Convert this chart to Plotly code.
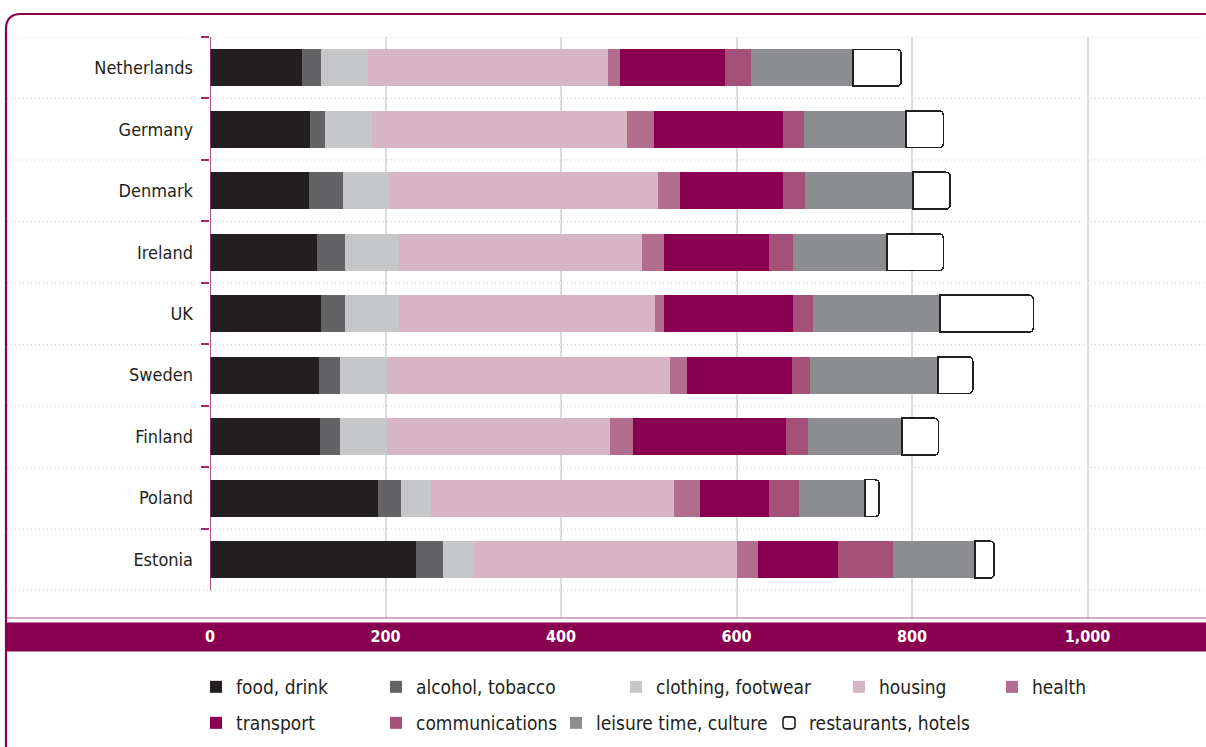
import plotly.graph_objects as go

# ---------------- data ----------------
countries = ["Netherlands", "Germany", "Denmark", "Ireland", "UK",
             "Sweden", "Finland", "Poland", "Estonia"]
food_drink = [104.5, 114.0, 112.8, 121.9, 126.5, 124.2, 125.4, 191.5, 234.8]
alcohol_tobacco = [22.0, 17.1, 38.7, 31.9, 27.4, 23.9, 22.8, 26.2, 30.8]
clothing_footwear = [53.6, 53.6, 52.4, 61.5, 61.5, 53.6, 53.6, 34.2, 35.3]
housing = [273.5, 290.6, 306.6, 276.9, 291.7, 322.5, 254.1, 276.9, 299.7]
health = [13.7, 30.8, 25.1, 25.1, 10.3, 19.4, 26.2, 29.6, 23.9]
transport = [119.7, 147.0, 117.4, 119.7, 147.0, 119.7, 174.4, 78.6, 91.2]
communications = [29.6, 23.9, 25.1, 27.4, 22.8, 20.5, 25.1, 34.2, 62.7]
leisure_culture = [115.9, 116.2, 123.1, 107.1, 144.7, 145.9, 107.1, 75.2, 93.4]
restaurants_hotels = [55.0, 42.5, 42.2, 64.2, 106.4, 39.5, 41.4, 16.0, 21.7]

series_names = ["food, drink", "alcohol, tobacco", "clothing, footwear", "housing",
                "health", "transport", "communications", "leisure time, culture",
                "restaurants, hotels"]
x_tick_values = [0, 200, 400, 600, 800, 1000]
x_tick_labels = ["0", "200", "400", "600", "800", "1,000"]

# ---------------- style ----------------
W, H = 1206, 747
ML, MR, MT, MB = 210, 0, 37, 129
PW, PH = W - ML - MR, H - MT - MB
MAGENTA = "#8a0050"
FONT = "DejaVu Sans Condensed, Liberation Sans Narrow, Roboto, sans-serif"
TEXT = "#231f20"

colors = ["#231f20", "#636365", "#c6c7c9", "#d8b5c5", "#b36e8f",
          "#8a0050", "#a55078", "#8c8d91", "#ffffff"]
values = [food_drink, alcohol_tobacco, clothing_footwear, housing, health,
          transport, communications, leisure_culture, restaurants_hotels]

def px_x(p):
    return (p - ML) / PW

def px_y(p):
    return (H - MB - p) / PH

# legend placement: (swatch left px, row centre px)
legend_pos = [(210, 687), (390, 687), (630, 687), (853, 687), (1006, 687),
              (210, 723), (390, 723), (570, 723), (783, 723)]

fig = go.Figure()
for i, (name, vals, col) in enumerate(zip(series_names, values, colors)):
    lg = "legend" if i == 0 else f"legend{i + 1}"
    marker = dict(color=col, line=dict(width=0))
    if i == len(series_names) - 1:
        marker = dict(color=col, line=dict(width=1.6, color=TEXT), cornerradius=4)
    fig.add_trace(go.Bar(
        y=countries, x=vals, name=name, orientation="h",
        marker=marker, legend=lg, showlegend=True, hoverinfo="x+name",
    ))

layout_legends = {}
for i, (sx, sy) in enumerate(legend_pos):
    key = "legend" if i == 0 else f"legend{i + 1}"
    layout_legends[key] = dict(
        x=px_x(sx - 14), y=px_y(sy), xanchor="left", yanchor="middle",
        orientation="h", bgcolor="rgba(0,0,0,0)", borderwidth=0,
        font=dict(family=FONT, size=19, color=TEXT), itemwidth=30,
        visible=True,
    )

shapes = []
# horizontal dotted separators (category boundaries)
for b in range(len(countries) + 1):
    shapes.append(dict(type="line", xref="paper", yref="y",
                       x0=px_x(7), x1=1.0, y0=b - 0.5, y1=b - 0.5,
                       line=dict(color="#c9c9c9", width=1, dash="1px,3px"),
                       layer="below"))
# magenta bracket line along the categories
shapes.append(dict(type="line", xref="x", yref="y", x0=0, x1=0,
                   y0=-0.5, y1=len(countries) - 0.5,
                   line=dict(color="#9e2a66", width=1.6), layer="above"))
# thin line at bottom of plot area
shapes.append(dict(type="line", xref="paper", yref="paper",
                   x0=px_x(5), x1=1.0, y0=0, y1=0,
                   line=dict(color="#b0508a", width=1.2), layer="above"))
# magenta band for the x axis labels
shapes.append(dict(type="rect", xref="paper", yref="paper",
                   x0=px_x(5), x1=1.0, y0=px_y(651.5), y1=px_y(622.5),
                   fillcolor=MAGENTA, line=dict(width=0), layer="below"))
# rounded outer frame (top-left corner)
r = 15
lx, ty = 6, 14
path = (f"M {px_x(lx)},{px_y(H + 5)} L {px_x(lx)},{px_y(ty + r)} "
        f"Q {px_x(lx)},{px_y(ty)} {px_x(lx + r)},{px_y(ty)} "
        f"L {px_x(W + 5)},{px_y(ty)}")
shapes.append(dict(type="path", xref="paper", yref="paper", path=path,
                   line=dict(color=MAGENTA, width=2.2), layer="above"))

fig.update_layout(
    width=W, height=H,
    margin=dict(l=ML, r=MR, t=MT, b=MB, autoexpand=False),
    paper_bgcolor="white", plot_bgcolor="white",
    barmode="stack", bargap=0.40, showlegend=True,
    font=dict(family=FONT, color=TEXT),
    shapes=shapes,
    **layout_legends,
)
fig.update_xaxes(
    range=[0, PW / 0.8775], tickvals=x_tick_values, ticktext=x_tick_labels,
    showgrid=True, gridcolor="#dcdcdc", gridwidth=1.6, zeroline=False,
    showline=False, ticks="", ticklabelstandoff=7,
    tickfont=dict(family=FONT, size=16, color="white", weight="bold"),
)
fig.update_yaxes(
    type="category", range=[len(countries) - 0.05, -0.5],
    showgrid=False, zeroline=False, showline=False,
    ticks="outside", tickson="boundaries", ticklen=8, tickwidth=2,
    tickcolor="#9e2a66", ticklabelstandoff=16,
    tickfont=dict(family=FONT, size=18, color=TEXT),
)

fig.write_html("out.html", config={"displayModeBar": False},
               post_script="document.body.style.margin='0';")
